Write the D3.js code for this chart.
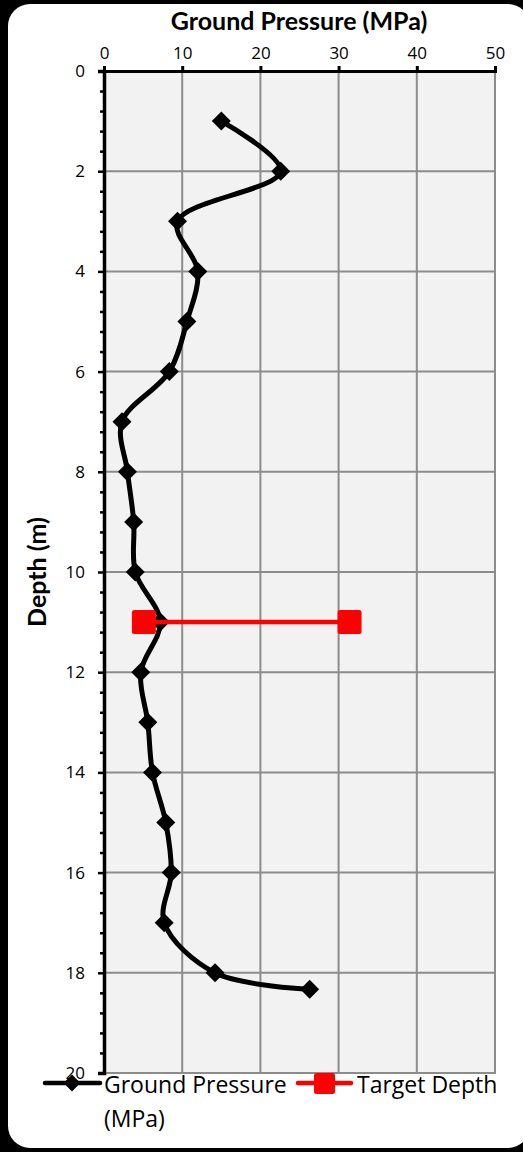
<!DOCTYPE html>
<html lang="en">
<head>
<meta charset="utf-8">
<title>Ground Pressure vs Depth</title>
<script src="https://d3js.org/d3.v7.min.js"></script>
<style>
  html, body { margin: 0; padding: 0; background: #000; }
  svg { display: block; }
  .axis-title { font-family: Lato, "Open Sans", sans-serif; font-weight: bold; font-size: 25px; fill: #000; }
  .legend-text { font-family: "Open Sans", sans-serif; font-size: 23px; fill: #000; }
</style>
</head>
<body>
<svg id="chart" width="523" height="1152"></svg>
<script>
// data
var depth    = [1, 2, 3, 4, 5, 6, 7, 8, 9, 10, 11, 12, 13, 14, 15, 16, 17, 18, 18.33];
var pressure = [15.0, 22.6, 9.4, 12.0, 10.6, 8.35, 2.3, 3.0, 3.8, 4.0, 7.2, 4.7, 5.6, 6.2, 7.9, 8.6, 7.7, 14.2, 26.3];
var targetDepth = [11, 11];
var targetPressure = [5.1, 31.4];
var xTicks = [0, 10, 20, 30, 40, 50];
var yTicks = [0, 2, 4, 6, 8, 10, 12, 14, 16, 18, 20];

var svg = d3.select("#chart");

// white rounded panel on black
svg.append("rect")
    .attr("x", 8).attr("y", 4)
    .attr("width", 522).attr("height", 1144)
    .attr("rx", 22).attr("ry", 22)
    .attr("fill", "#fff");

var pLeft = 104, pRight = 495, pTop = 71, pBottom = 1073;

var x = d3.scaleLinear().domain([0, 50]).range([pLeft, pRight]);
var y = d3.scaleLinear().domain([0, 20]).range([pTop, pBottom]);

// plot area
svg.append("rect")
    .attr("x", pLeft).attr("y", pTop)
    .attr("width", pRight - pLeft).attr("height", pBottom - pTop)
    .attr("fill", "#f2f2f2")
    .attr("stroke", "#8c8c8c")
    .attr("stroke-width", 2);

// gridlines
svg.append("g").selectAll("line")
    .data(xTicks.slice(1))
    .enter().append("line")
        .attr("x1", function(d) { return x(d); })
        .attr("x2", function(d) { return x(d); })
        .attr("y1", pTop).attr("y2", pBottom)
        .attr("stroke", "#8c8c8c").attr("stroke-width", 2);

svg.append("g").selectAll("line")
    .data(yTicks.slice(1))
    .enter().append("line")
        .attr("x1", pLeft).attr("x2", pRight)
        .attr("y1", function(d) { return y(d); })
        .attr("y2", function(d) { return y(d); })
        .attr("stroke", "#8c8c8c").attr("stroke-width", 2);

// top axis (x)
var xAxis = svg.append("g")
    .attr("transform", "translate(0," + pTop + ")")
    .attr("font-family", "'Open Sans', sans-serif")
    .attr("font-size", 17)
    .call(d3.axisTop(x).tickValues(xTicks).tickSize(5).tickFormat(d3.format("d")).tickPadding(7));
xAxis.attr("font-family", "'Open Sans', sans-serif").attr("font-size", 17);
xAxis.select(".domain").attr("stroke", "#000").attr("stroke-width", 3);
xAxis.selectAll(".tick line").attr("stroke", "#000").attr("stroke-width", 3);
xAxis.selectAll(".tick text").attr("fill", "#000");

// left axis (y), minor ticks every 0.4 m
var minor = d3.range(0, 20.001, 0.4).filter(function(d) { return Math.abs(d / 2 - Math.round(d / 2)) > 0.01; });
svg.append("g")
    .attr("transform", "translate(" + pLeft + ",0)")
    .call(d3.axisLeft(y).tickValues(minor).tickSize(4).tickFormat(""))
    .call(function(g) {
        g.select(".domain").remove();
        g.selectAll(".tick line").attr("stroke", "#000").attr("stroke-width", 2.5);
    });

var yAxis = svg.append("g")
    .attr("transform", "translate(" + pLeft + ",0)")
    .call(d3.axisLeft(y).tickValues(yTicks).tickSize(6).tickPadding(13).tickFormat(d3.format("d")));
yAxis.attr("font-family", "'Open Sans', sans-serif").attr("font-size", 17);
yAxis.select(".domain").attr("stroke", "#000").attr("stroke-width", 3.5);
yAxis.selectAll(".tick line").attr("stroke", "#000").attr("stroke-width", 2.5);
yAxis.selectAll(".tick text").attr("fill", "#000");

// titles
svg.append("text")
    .attr("class", "axis-title")
    .attr("x", 299).attr("y", 30)
    .attr("text-anchor", "middle")
    .text("Ground Pressure (MPa)");

svg.append("text")
    .attr("class", "axis-title")
    .attr("transform", "translate(46," + ((pTop + pBottom) / 2) + ") rotate(-90)")
    .attr("text-anchor", "middle")
    .text("Depth (m)");

// ground pressure series
var pts = depth.map(function(d, i) { return [pressure[i], d]; });
var line = d3.line()
    .x(function(d) { return x(d[0]); })
    .y(function(d) { return y(d[1]); })
    .curve(d3.curveCatmullRom.alpha(0.5));

svg.append("path")
    .datum(pts)
    .attr("d", line)
    .attr("fill", "none")
    .attr("stroke", "#000")
    .attr("stroke-width", 5)
    .attr("stroke-linejoin", "round");

var diamond = d3.symbol().type(d3.symbolDiamond2).size(230);
svg.append("g").selectAll("path")
    .data(pts)
    .enter().append("path")
        .attr("d", diamond)
        .attr("transform", function(d) { return "translate(" + x(d[0]) + "," + y(d[1]) + ")"; })
        .attr("fill", "#000");

// target depth series
var tPts = targetDepth.map(function(d, i) { return [targetPressure[i], d]; });
svg.append("path")
    .datum(tPts)
    .attr("d", d3.line().x(function(d) { return x(d[0]); }).y(function(d) { return y(d[1]); }))
    .attr("stroke", "#ff0000")
    .attr("stroke-width", 4.5);

svg.append("g").selectAll("rect")
    .data(tPts)
    .enter().append("rect")
        .attr("x", function(d) { return x(d[0]) - 12; })
        .attr("y", function(d) { return y(d[1]) - 12; })
        .attr("width", 24).attr("height", 24)
        .attr("rx", 2.5)
        .attr("fill", "#ff0000");

// legend
var leg = svg.append("g").attr("transform", "translate(0,1083)");
leg.append("line")
    .attr("x1", 45).attr("x2", 100).attr("y1", 0).attr("y2", 0)
    .attr("stroke", "#000").attr("stroke-width", 4.5).attr("stroke-linecap", "round");
leg.append("path")
    .attr("d", d3.symbol().type(d3.symbolDiamond2).size(180))
    .attr("transform", "translate(72,0)")
    .attr("fill", "#000");
leg.append("text").attr("class", "legend-text").attr("x", 104).attr("y", 10).text("Ground Pressure");
leg.append("text").attr("class", "legend-text").attr("x", 104).attr("y", 44).text("(MPa)");

leg.append("line")
    .attr("x1", 298).attr("x2", 351).attr("y1", 0).attr("y2", 0)
    .attr("stroke", "#ff0000").attr("stroke-width", 4.5).attr("stroke-linecap", "round");
leg.append("rect")
    .attr("x", 314).attr("y", -10).attr("width", 21).attr("height", 21).attr("rx", 2.5)
    .attr("fill", "#ff0000");
leg.append("text").attr("class", "legend-text").attr("x", 357).attr("y", 10).text("Target Depth");
</script>
</body>
</html>
